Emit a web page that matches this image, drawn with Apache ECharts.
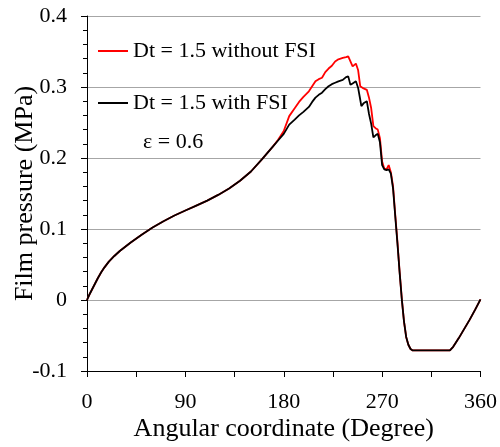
<!DOCTYPE html>
<html>
<head>
<meta charset="utf-8">
<title>Film pressure</title>
<script src="https://cdn.jsdelivr.net/npm/echarts@6/dist/echarts.min.js"></script>
<style>
  html, body { margin: 0; padding: 0; background: #fff; }
  #chart { width: 500px; height: 447px; }
</style>
</head>
<body>
<div id="chart"></div>
<script type="text/javascript">
// angular coordinate (degree)
var angles = [0, 2, 4, 6, 8, 10, 13, 16, 20, 25, 30, 35, 40, 50, 60, 70, 80, 90, 100, 110, 120, 130, 140, 150, 160, 170, 175,
  180, 185, 190, 194, 198, 203, 206, 209, 212, 215, 218, 221, 224, 227, 230, 234, 237, 239, 241, 243, 246, 248,
  250, 251, 253, 256, 258, 260, 262, 264, 266, 268, 270, 272, 274, 276, 278, 280, 282, 284, 286, 288, 290,
  292, 294, 296, 298, 300, 332, 335, 340, 345, 350, 355, 360];

// Dt = 1.5 without FSI
var withoutFsi = [0, 0.007, 0.013, 0.019, 0.025, 0.031, 0.039, 0.046, 0.054, 0.062, 0.069, 0.075, 0.081, 0.092, 0.102, 0.111, 0.119, 0.126, 0.133, 0.140, 0.148, 0.157, 0.168, 0.181, 0.198, 0.216, 0.226,
  0.238, 0.259, 0.270, 0.279, 0.286, 0.294, 0.301, 0.308, 0.311, 0.313, 0.321, 0.326, 0.330, 0.336, 0.339, 0.341, 0.342, 0.343, 0.336, 0.329, 0.333, 0.324,
  0.301, 0.300, 0.298, 0.296, 0.285, 0.270, 0.245, 0.242, 0.240, 0.228, 0.195, 0.185, 0.184, 0.190, 0.180, 0.160, 0.120, 0.082, 0.040, 0.002, -0.030,
  -0.052, -0.063, -0.069, -0.071, -0.071, -0.071, -0.066, -0.054, -0.041, -0.028, -0.014, 0.001];

// Dt = 1.5 with FSI
var withFsi = [0, 0.007, 0.013, 0.019, 0.025, 0.031, 0.039, 0.046, 0.054, 0.062, 0.069, 0.075, 0.081, 0.092, 0.102, 0.111, 0.119, 0.126, 0.133, 0.140, 0.148, 0.157, 0.168, 0.181, 0.198, 0.216, 0.225,
  0.234, 0.247, 0.254, 0.260, 0.265, 0.272, 0.279, 0.285, 0.289, 0.292, 0.297, 0.301, 0.304, 0.306, 0.308, 0.310, 0.314, 0.315, 0.303, 0.305, 0.308, 0.299,
  0.282, 0.273, 0.277, 0.280, 0.262, 0.248, 0.229, 0.232, 0.234, 0.222, 0.190, 0.184, 0.183, 0.184, 0.178, 0.157, 0.118, 0.080, 0.039, 0.001, -0.030,
  -0.052, -0.063, -0.069, -0.071, -0.071, -0.071, -0.066, -0.054, -0.041, -0.028, -0.014, 0.001];

var seriesNames = ['Dt = 1.5 without FSI', 'Dt = 1.5 with FSI'];
var xTicks = { min: 0, max: 360, step: 90 };
var yTicks = { min: -0.1, max: 0.4, step: 0.1 };

function pairs(xs, ys) {
  var out = [];
  for (var i = 0; i < xs.length; i++) {
    out.push([xs[i], ys[i]]);
  }
  return out;
}

var font = '"Liberation Serif", "Times New Roman", serif';
var myChart = echarts.init(document.getElementById('chart'));
var option = {
  animation: false,
  textStyle: { fontFamily: font, color: '#000' },
  grid: { left: 87, right: 18, top: 16, bottom: 73 },
  legend: {
    orient: 'vertical',
    left: 93,
    top: 34,
    itemWidth: 30,
    itemHeight: 2,
    itemGap: 28,
    icon: 'rect',
    textStyle: { fontFamily: font, fontSize: 22, color: '#000', lineHeight: 24 },
    data: seriesNames
  },
  graphic: [{
    type: 'text',
    left: 143,
    top: 131,
    style: { text: 'ε = 0.6', font: '22px ' + font, fill: '#000' }
  }],
  xAxis: {
    type: 'value',
    min: xTicks.min,
    max: xTicks.max,
    interval: xTicks.step,
    name: 'Angular coordinate (Degree)',
    nameLocation: 'middle',
    nameGap: 45,
    nameMoveOverlap: false,
    nameTextStyle: { fontFamily: font, fontSize: 26, color: '#000' },
    axisLine: { onZero: false, lineStyle: { color: '#000', width: 1 } },
    axisTick: { show: true, length: 6, lineStyle: { color: '#000' } },
    minorTick: { show: true, splitNumber: 2, length: 6, lineStyle: { color: '#000' } },
    axisLabel: { fontFamily: font, fontSize: 22, color: '#000', margin: 20 },
    splitLine: { show: false }
  },
  yAxis: {
    type: 'value',
    min: yTicks.min,
    max: yTicks.max,
    interval: yTicks.step,
    name: 'Film pressure (MPa)',
    nameLocation: 'middle',
    nameGap: 49,
    nameMoveOverlap: false,
    nameTextStyle: { fontFamily: font, fontSize: 26, color: '#000' },
    axisLine: { show: true, lineStyle: { color: '#000', width: 1 } },
    axisTick: { show: true, length: 6, lineStyle: { color: '#000' } },
    minorTick: { show: true, splitNumber: 5, length: 4, lineStyle: { color: '#000' } },
    axisLabel: { fontFamily: font, fontSize: 22, color: '#000', margin: 20 },
    splitLine: { show: true, lineStyle: { color: '#a6a6a6', width: 1 } }
  },
  series: [{
    name: seriesNames[0],
    type: 'line',
    showSymbol: false,
    symbol: 'none',
    color: '#ff0000',
    lineStyle: { color: '#ff0000', width: 1.8 },
    data: pairs(angles, withoutFsi)
  }, {
    name: seriesNames[1],
    type: 'line',
    showSymbol: false,
    symbol: 'none',
    color: '#000000',
    lineStyle: { color: '#000000', width: 1.8 },
    data: pairs(angles, withFsi)
  }]
};
myChart.setOption(option);
</script>
</body>
</html>
